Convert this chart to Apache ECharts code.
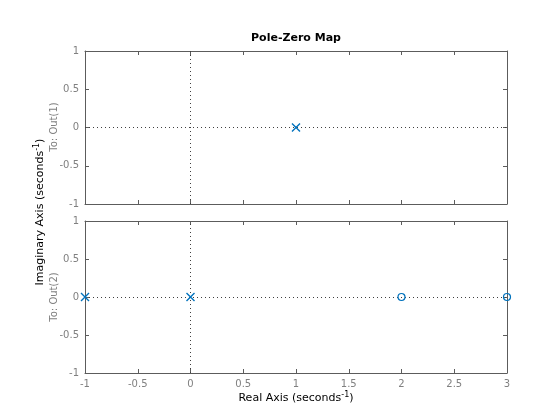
<!DOCTYPE html>
<html><head><meta charset="utf-8">
<script src="https://cdn.jsdelivr.net/npm/echarts@6/dist/echarts.min.js"></script>
<style>html,body{margin:0;padding:0;background:#fff}#c{width:560px;height:420px}</style>
</head><body><div id="c"></div>
<script>
// Data
const polesOut1 = [[1, 0]];
const zerosOut1 = [];
const polesOut2 = [[-1, 0], [0, 0]];
const zerosOut2 = [[2, 0], [3, 0]];
const xRange = [-1, 3];
const yRange = [-1, 1];
const tickStep = 0.5;

const FONT = 'DejaVu Sans';
const axisColor = '#5c5c5c';
const labelColor = '#808080';
const markerColor = '#0072BD';
const xPath = 'path://M0,0L10,10M10,0L0,10';
const oPath = 'path://M5,0A5,5,0,1,1,4.99,0Z';

function mkX(gi, pos, showLabel) {
  return {
    type: 'value', gridIndex: gi, position: pos, min: xRange[0], max: xRange[1], interval: tickStep,
    axisLine: { show: true, onZero: false, lineStyle: { color: axisColor, width: 1 } },
    axisTick: { show: true, inside: true, length: 4, lineStyle: { color: axisColor } },
    axisLabel: { show: showLabel, color: labelColor, fontFamily: FONT, fontSize: 10, margin: 6 },
    splitLine: { show: false }
  };
}
function mkY(gi, pos, showLabel) {
  return {
    type: 'value', gridIndex: gi, position: pos, min: yRange[0], max: yRange[1], interval: tickStep,
    axisLine: { show: true, onZero: false, lineStyle: { color: axisColor, width: 1 } },
    axisTick: { show: true, inside: true, length: 4, lineStyle: { color: axisColor } },
    axisLabel: { show: showLabel, color: labelColor, fontFamily: FONT, fontSize: 10, margin: 6 },
    splitLine: { show: false }
  };
}
const dotted = {
  silent: true, symbol: 'none', animation: false,
  label: { show: false },
  lineStyle: { color: '#404040', type: [1, 3], width: 1 },
  data: [{ yAxis: 0 }, { xAxis: 0 }]
};
function poleSeries(gi, data, withLines) {
  const s = {
    type: 'scatter', xAxisIndex: gi * 2, yAxisIndex: gi * 2, data: data,
    symbol: xPath, symbolSize: 8, clip: false, z: 5,
    itemStyle: { color: 'none', borderColor: markerColor, borderWidth: 1.4, opacity: 1 }
  };
  if (withLines) s.markLine = dotted;
  return s;
}
function zeroSeries(gi, data) {
  return {
    type: 'scatter', xAxisIndex: gi * 2, yAxisIndex: gi * 2, data: data,
    symbol: oPath, symbolSize: 7, clip: false, z: 5,
    itemStyle: { color: 'none', borderColor: markerColor, borderWidth: 1.2, opacity: 1 }
  };
}

const chart = echarts.init(document.getElementById('c'), null, { renderer: 'canvas' });
chart.setOption({
  animation: false,
  backgroundColor: '#fff',
  grid: [
    { left: 85, right: 53, top: 51, height: 153 },
    { left: 85, right: 53, top: 221, height: 152 }
  ],
  xAxis: [mkX(0, 'bottom', false), mkX(0, 'top', false), mkX(1, 'bottom', true), mkX(1, 'top', false)],
  yAxis: [mkY(0, 'left', true), mkY(0, 'right', false), mkY(1, 'left', true), mkY(1, 'right', false)],
  series: [
    poleSeries(0, polesOut1, true),
    zeroSeries(0, zerosOut1),
    poleSeries(1, polesOut2, true),
    zeroSeries(1, zerosOut2)
  ],
  graphic: [
    { type: 'text', position: [296, 38], style: { text: 'Pole-Zero Map', fontFamily: FONT, fontSize: 11, fontWeight: 'bold', fill: '#000', textAlign: 'center', textVerticalAlign: 'middle' } },
    { type: 'text', position: [296, 398], style: { text: '{a|Real Axis (seconds}{s|-1}{a|)}', textAlign: 'center', textVerticalAlign: 'middle', rich: { a: { fontFamily: FONT, fontSize: 11, color: '#262626' }, s: { fontFamily: FONT, fontSize: 8, color: '#262626', padding: [0, 0, 7, 0] } } } },
    { type: 'text', position: [40, 212], rotation: Math.PI / 2, style: { text: '{a|Imaginary Axis (seconds}{s|-1}{a|)}', textAlign: 'center', textVerticalAlign: 'middle', rich: { a: { fontFamily: FONT, fontSize: 11, color: '#262626' }, s: { fontFamily: FONT, fontSize: 8, color: '#262626', padding: [0, 0, 7, 0] } } } },
    { type: 'text', position: [54, 127], rotation: Math.PI / 2, style: { text: 'To: Out(1)', fontFamily: FONT, fontSize: 10, fill: labelColor, textAlign: 'center', textVerticalAlign: 'middle' } },
    { type: 'text', position: [54, 297], rotation: Math.PI / 2, style: { text: 'To: Out(2)', fontFamily: FONT, fontSize: 10, fill: labelColor, textAlign: 'center', textVerticalAlign: 'middle' } }
  ]
});
</script></body></html>
